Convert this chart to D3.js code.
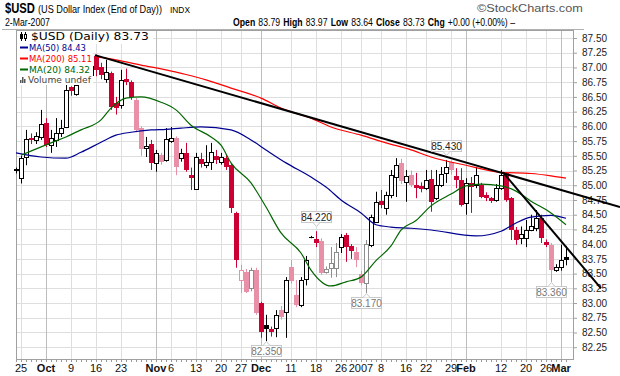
<!DOCTYPE html>
<html>
<head>
<meta charset="utf-8">
<script src="https://cdn.jsdelivr.net/npm/d3@7"></script>
<style>
  body { margin: 0; background: #fff; }
  svg { display: block; }
</style>
</head>
<body>
<svg id="chart" width="620" height="376"></svg>
<script>
// trading days shown on the chart
const dates = [
  "2006-09-22","2006-09-25","2006-09-26","2006-09-27","2006-09-28","2006-09-29",
  "2006-10-02","2006-10-03","2006-10-04","2006-10-05","2006-10-06",
  "2006-10-09","2006-10-10","2006-10-11","2006-10-12","2006-10-13",
  "2006-10-16","2006-10-17","2006-10-18","2006-10-19","2006-10-20",
  "2006-10-23","2006-10-24","2006-10-25","2006-10-26","2006-10-27",
  "2006-10-30","2006-10-31","2006-11-01","2006-11-02","2006-11-03",
  "2006-11-06","2006-11-07","2006-11-08","2006-11-09","2006-11-10",
  "2006-11-13","2006-11-14","2006-11-15","2006-11-16","2006-11-17",
  "2006-11-20","2006-11-21","2006-11-22","2006-11-24",
  "2006-11-27","2006-11-28","2006-11-29","2006-11-30","2006-12-01",
  "2006-12-04","2006-12-05","2006-12-06","2006-12-07","2006-12-08",
  "2006-12-11","2006-12-12","2006-12-13","2006-12-14","2006-12-15",
  "2006-12-18","2006-12-19","2006-12-20","2006-12-21","2006-12-22",
  "2006-12-26","2006-12-27","2006-12-28","2006-12-29",
  "2007-01-02","2007-01-03","2007-01-04","2007-01-05",
  "2007-01-08","2007-01-09","2007-01-10","2007-01-11","2007-01-12",
  "2007-01-16","2007-01-17","2007-01-18","2007-01-19",
  "2007-01-22","2007-01-23","2007-01-24","2007-01-25","2007-01-26",
  "2007-01-29","2007-01-30","2007-01-31","2007-02-01","2007-02-02",
  "2007-02-05","2007-02-06","2007-02-07","2007-02-08","2007-02-09",
  "2007-02-12","2007-02-13","2007-02-14","2007-02-15","2007-02-16",
  "2007-02-20","2007-02-21","2007-02-22","2007-02-23",
  "2007-02-26","2007-02-27","2007-02-28","2007-03-01","2007-03-02"
];

const opens = [
  85.28,85.12,85.48,85.80,85.76,85.82,86.05,85.68,85.77,85.89,85.99,
  86.66,86.55,86.78,86.92,86.88,87.20,87.00,86.80,86.90,86.40,
  86.36,86.80,86.76,86.45,85.97,85.63,85.70,85.38,85.52,85.43,
  85.75,85.80,85.46,85.55,85.17,84.94,85.45,85.34,85.39,85.50,
  85.40,85.46,85.34,84.53,83.39,83.53,83.26,83.56,83.00,
  82.63,82.56,82.58,82.88,82.85,83.62,83.14,82.97,83.41,84.12,
  84.08,84.05,83.53,83.59,83.59,83.95,84.15,83.97,83.87,
  83.50,83.34,83.98,84.38,84.73,84.61,84.83,85.14,85.37,
  85.05,85.17,85.00,84.98,84.95,85.11,84.78,85.00,85.21,
  85.39,85.16,85.09,84.70,85.04,85.00,85.00,84.83,84.79,84.75,
  84.95,85.21,84.78,84.24,84.10,84.10,84.24,84.27,84.45,
  84.04,83.99,83.56,83.62,83.79
];
const highs = [
  85.30,85.50,85.94,85.88,85.90,86.28,86.14,85.94,86.14,86.11,86.74,
  86.68,86.72,86.98,87.05,87.12,87.22,87.08,87.13,86.93,86.50,
  86.96,86.98,86.78,86.48,86.00,85.82,85.77,85.60,85.55,85.97,
  85.99,85.83,85.62,85.72,85.30,85.55,85.55,85.68,85.72,85.60,
  85.55,85.52,85.36,84.55,83.65,83.58,83.60,83.60,83.02,
  82.80,82.60,82.88,82.95,83.44,83.73,83.39,83.44,83.80,84.14,
  84.22,84.10,83.62,83.95,84.02,84.17,84.19,84.00,83.95,
  83.55,84.07,84.50,84.89,84.92,84.89,85.26,85.46,85.45,
  85.26,85.25,85.21,85.05,85.26,85.26,85.26,85.31,85.43,
  85.42,85.29,85.29,85.12,85.14,85.31,85.04,84.88,84.80,85.02,
  85.26,85.22,84.80,84.29,84.30,84.41,84.50,84.58,84.50,
  84.08,84.02,83.66,83.99,83.97
];
const lows = [
  85.20,85.03,85.34,85.70,85.70,85.77,85.65,85.55,85.65,85.82,85.97,
  86.52,86.52,86.77,86.80,86.80,86.85,86.80,86.74,86.28,86.20,
  86.30,86.70,86.45,85.90,85.50,85.48,85.26,85.23,85.35,85.40,
  85.72,85.17,85.40,85.23,84.92,84.92,85.30,85.29,85.26,85.36,
  85.35,85.26,84.53,83.60,83.17,83.17,83.20,82.80,82.41,
  82.35,82.43,82.42,82.72,82.41,83.33,82.93,82.93,83.30,84.10,
  83.95,83.48,83.50,83.43,83.44,83.85,83.70,83.75,83.61,
  83.30,83.17,83.95,84.36,84.61,84.50,84.78,84.80,85.02,
  84.72,84.97,84.78,84.88,84.92,84.55,84.75,84.97,85.04,
  85.18,84.95,84.64,84.50,84.53,84.95,84.78,84.73,84.70,84.72,
  84.92,84.72,84.07,83.99,84.00,83.95,84.22,84.22,84.02,
  83.95,83.36,83.53,83.55,83.64
];
const closes = [
  85.24,85.46,85.78,85.76,85.84,86.04,85.68,85.80,85.89,85.97,86.62,
  86.60,86.70,86.90,86.88,87.02,86.96,86.87,86.92,86.33,86.32,
  86.79,86.75,86.50,85.94,85.62,85.66,85.38,85.55,85.40,85.78,
  85.80,85.31,85.55,85.26,85.12,85.48,85.36,85.40,85.56,85.43,
  85.48,85.31,84.61,83.73,83.56,83.19,83.56,82.83,82.51,
  82.56,82.51,82.80,82.76,83.39,83.37,82.97,83.39,83.73,84.12,
  84.02,83.51,83.58,83.68,83.87,84.12,83.95,83.88,83.73,
  83.34,84.00,84.46,84.72,84.66,84.83,85.17,85.34,85.08,
  85.16,85.00,84.95,84.93,85.09,84.72,85.00,85.19,85.31,
  85.26,85.09,84.66,85.04,84.97,85.17,84.80,84.78,84.74,84.95,
  85.17,84.75,84.24,84.07,84.18,84.24,84.30,84.44,84.10,
  83.99,83.56,83.61,83.73,83.73
];

// moving averages: [date, value]
const ma50 = [
  ["2006-09-22",85.55],["2006-09-29",85.48],["2006-10-06",85.46],["2006-10-11",85.56],
  ["2006-10-17",85.73],["2006-10-20",85.85],["2006-10-25",85.90],["2006-10-31",85.94],
  ["2006-11-03",85.95],["2006-11-08",85.97],["2006-11-14",85.99],["2006-11-22",85.94],
  ["2006-11-29",85.77],["2006-12-04",85.60],["2006-12-08",85.38],["2006-12-15",85.14],
  ["2006-12-20",84.97],["2006-12-26",84.75],["2007-01-02",84.53],["2007-01-05",84.33],
  ["2007-01-10",84.29],["2007-01-17",84.27],["2007-01-23",84.24],["2007-02-05",84.14],
  ["2007-02-12",84.22],["2007-02-15",84.36],["2007-02-21",84.46],["2007-02-27",84.49],
  ["2007-03-02",84.44]
];
const ma200 = [
  ["2006-10-16",87.18],["2006-10-20",87.13],["2006-10-27",87.04],["2006-11-03",86.96],
  ["2006-11-09",86.88],["2006-11-15",86.79],["2006-11-22",86.65],["2006-12-01",86.48],
  ["2006-12-07",86.31],["2006-12-15",86.14],["2006-12-21",85.99],["2007-01-02",85.85],
  ["2007-01-09",85.72],["2007-01-17",85.60],["2007-01-23",85.48],["2007-02-01",85.34],
  ["2007-02-12",85.22],["2007-02-21",85.20],["2007-02-27",85.16],["2007-03-02",85.12]
];
const ma20 = [
  ["2006-09-25",85.51],["2006-10-03",85.72],["2006-10-06",85.82],["2006-10-11",85.94],
  ["2006-10-17",86.11],["2006-10-19",86.31],["2006-10-24",86.48],["2006-10-27",86.50],
  ["2006-11-02",86.41],["2006-11-07",86.28],["2006-11-10",86.02],["2006-11-16",85.82],
  ["2006-11-20",85.68],["2006-11-22",85.38],["2006-11-29",85.04],["2006-12-04",84.63],
  ["2006-12-07",84.19],["2006-12-13",83.85],["2006-12-15",83.56],["2006-12-21",83.29],
  ["2006-12-27",83.36],["2007-01-02",83.44],["2007-01-05",83.72],["2007-01-10",83.97],
  ["2007-01-12",84.24],["2007-01-18",84.40],["2007-01-23",84.65],["2007-01-29",84.85],
  ["2007-02-01",84.99],["2007-02-06",85.02],["2007-02-12",84.99],["2007-02-15",84.90],
  ["2007-02-21",84.73],["2007-02-27",84.53],["2007-03-02",84.33]
];

// trend lines drawn on the chart: [day number, price]
const trendLong = [[15.8, 87.21], [120.8, 84.63]];
const trendShort = [[97.4, 85.22], [117.0, 83.25]];

// high / low callouts
const calloutDates = ["2007-01-26", "2006-12-18", "2007-01-03", "2006-12-04", "2007-02-27"];
const calloutValues = [85.43, 84.22, 83.17, 82.35, 83.36];
const calloutKinds = ["high", "high", "low", "low", "low"];

const yTicks = [82.25,82.50,82.75,83.00,83.25,83.50,83.75,84.00,84.25,84.50,84.75,
  85.00,85.25,85.50,85.75,86.00,86.25,86.50,86.75,87.00,87.25,87.50];
const tickDates = ["2006-09-25","2006-10-02","2006-10-09","2006-10-16","2006-10-23",
  "2006-11-01","2006-11-06","2006-11-13","2006-11-20","2006-11-27","2006-12-01",
  "2006-12-11","2006-12-18","2006-12-26","2007-01-02","2007-01-08","2007-01-16",
  "2007-01-22","2007-01-29","2007-02-01","2007-02-12","2007-02-20","2007-02-26","2007-03-01"];
const tickLabels = ["25","Oct","9","16","23","Nov","6","13","20","27","Dec","11","18","26",
  "2007","8","16","22","29","Feb","12","20","26","Mar"];

const legendNames = ["MA(50)", "MA(200)", "MA(20)"];
const legendValues = ["84.43", "85.11", "84.32"];
const quoteNames = ["Open", "High", "Low", "Close", "Chg"];
const quoteValues = ["83.79", "83.97", "83.64", "83.73", "+0.00 (+0.00%) \u2013"];

// candles that show washed out in the picture
const pale = ["2006-10-26","2006-10-27","2006-11-02","2006-11-07","2006-11-27","2006-11-28",
  "2006-11-29","2006-11-30","2006-12-07","2006-12-11","2006-12-12","2006-12-19","2006-12-20",
  "2006-12-21","2006-12-22","2006-12-29","2007-01-02","2007-01-03","2007-01-12","2007-01-17",
  "2007-01-29","2007-02-27"];

var svg = d3.select("#chart");
var plotL = 16, plotR = 573, plotT = 30, plotB = 359;

var x = d3.scaleLinear().domain([0, dates.length - 1]).range([16, 566]);
var y = d3.scaleLinear().domain([82.05, 87.636]).range([plotB, plotT]);
var dayOf = function (d) { return dates.indexOf(d); };
var px = function (v) { return Math.round(v) + 0.5; };

var RED = "#cc0033", BLACK = "#000";
var SANS = "'Liberation Sans', Arial, sans-serif";

// squeeze a text horizontally to a given width (the source uses a condensed face)
function fit(sel, w) {
  var x0 = +sel.attr("x"), y0 = +sel.attr("y");
  var w0 = sel.node().getComputedTextLength();
  sel.attr("x", 0).attr("y", 0)
    .attr("transform", "translate(" + x0 + "," + y0 + ") scale(" + (w / w0) + ",1)");
  return sel;
}

// grid
var grid = svg.append("g");
grid.selectAll("line.h")
  .data(yTicks)
  .enter().append("line")
  .attr("x1", plotL).attr("x2", plotR)
  .attr("y1", function (d) { return px(y(d)); })
  .attr("y2", function (d) { return px(y(d)); })
  .attr("stroke", "#dedede");
grid.selectAll("line.v")
  .data(tickDates)
  .enter().append("line")
  .attr("x1", function (d) { return px(x(dayOf(d))); })
  .attr("x2", function (d) { return px(x(dayOf(d))); })
  .attr("y1", plotT).attr("y2", plotB)
  .attr("stroke", function (d, i) { return isNaN(+tickLabels[i]) ? "#bdbdbd" : "#dedede"; });

// frame
svg.append("rect")
  .attr("x", plotL + 0.5).attr("y", plotT + 0.5)
  .attr("width", plotR - plotL).attr("height", plotB - plotT)
  .attr("fill", "none").attr("stroke", "#a0a0a0");

// right axis
var yAxis = svg.append("g")
  .attr("transform", "translate(" + plotR + ",0)")
  .call(d3.axisRight(y).tickValues(yTicks).tickFormat(d3.format(".2f")).tickSize(4).tickPadding(5));
yAxis.select(".domain").remove();
yAxis.selectAll("line").attr("stroke", "#a0a0a0");
yAxis.selectAll("text").attr("font-family", SANS).attr("font-size", 10).attr("fill", "#222");

// daily ticks under the plot and date labels
svg.append("g").selectAll("line")
  .data(dates)
  .enter().append("line")
  .attr("x1", function (d, i) { return px(x(i)); })
  .attr("x2", function (d, i) { return px(x(i)); })
  .attr("y1", plotB + 1).attr("y2", plotB + 3)
  .attr("stroke", "#999");
svg.append("g").selectAll("text")
  .data(tickDates)
  .enter().append("text")
  .attr("x", function (d) { return x(dayOf(d)); })
  .attr("y", 372)
  .attr("text-anchor", "middle")
  .attr("font-family", SANS)
  .attr("font-size", 11)
  .attr("font-weight", function (d, i) { return isNaN(+tickLabels[i]) ? "bold" : "normal"; })
  .attr("fill", "#111")
  .text(function (d, i) { return tickLabels[i]; });

// candles: hollow when close > open, red when close < previous close
var candles = svg.append("g");
dates.forEach(function (d, i) {
  var cx = Math.round(x(i));
  var down = i > 0 && closes[i] < closes[i - 1];
  var washed = pale.indexOf(d) >= 0;
  var c = down ? (washed ? "#e890a8" : RED) : (washed ? "#8c8c8c" : BLACK);
  candles.append("line")
    .attr("x1", cx + 0.5).attr("x2", cx + 0.5)
    .attr("y1", y(highs[i])).attr("y2", y(lows[i]))
    .attr("stroke", c);
  var yt = Math.round(y(Math.max(opens[i], closes[i])));
  var yb = Math.round(y(Math.min(opens[i], closes[i])));
  if (closes[i] > opens[i]) {
    candles.append("rect")
      .attr("x", cx - 1.5).attr("y", yt + 0.5)
      .attr("width", 4).attr("height", Math.max(yb - yt, 1))
      .attr("fill", "#fff").attr("stroke", c);
  } else {
    candles.append("rect")
      .attr("x", cx - 2).attr("y", yt)
      .attr("width", 5).attr("height", Math.max(yb - yt, 1))
      .attr("fill", c);
  }
});

// moving averages
var maLine = d3.line()
  .x(function (d) { return x(dayOf(d[0])); })
  .y(function (d) { return y(d[1]); })
  .curve(d3.curveMonotoneX);
var maColors = ["#000090", "#ff0000", "#006600"];
[ma50, ma200, ma20].forEach(function (m, k) {
  svg.append("path").datum(m)
    .attr("d", maLine)
    .attr("fill", "none")
    .attr("stroke", maColors[k])
    .attr("stroke-width", 1.2);
});

// trend lines
var tLine = d3.line().x(function (d) { return x(d[0]); }).y(function (d) { return y(d[1]); });
[trendLong, trendShort].forEach(function (t) {
  svg.append("path").datum(t)
    .attr("d", tLine)
    .attr("stroke", "#000")
    .attr("stroke-width", 2);
});

// callouts
calloutDates.forEach(function (d, k) {
  var cx = Math.round(x(dayOf(d)));
  var cy = y(calloutValues[k]);
  var up = calloutKinds[k] == "high";
  var by = Math.round(up ? cy - 20 : cy + 4);
  var g = svg.append("g");
  g.append("rect")
    .attr("x", cx - 14.5).attr("y", by + 0.5)
    .attr("width", 30).attr("height", 11)
    .attr("fill", "#fff").attr("stroke", "#c8c8c8");
  var ny = up ? by + 11.5 : by + 0.5;
  var tip = up ? ny + 4 : ny - 4;
  g.append("path")
    .attr("d", "M" + (cx - 3) + "," + ny + "L" + (cx + 0.5) + "," + tip + "L" + (cx + 4) + "," + ny)
    .attr("fill", "#fff").attr("stroke", "#c8c8c8");
  g.append("text")
    .attr("x", cx + 0.5).attr("y", by + 10)
    .attr("text-anchor", "middle")
    .attr("font-family", SANS).attr("font-size", 10)
    .attr("fill", up ? "#222" : "#777")
    .text(calloutValues[k].toFixed(3));
});

// legend
var legend = svg.append("g").attr("font-family", "'DejaVu Sans', Verdana, sans-serif");
legend.append("rect").attr("x", 17).attr("y", 31).attr("width", 136).attr("height", 13).attr("fill", "#fff");
legend.append("rect").attr("x", 17).attr("y", 44).attr("width", 76).attr("height", 41).attr("fill", "#fff");
legend.append("line").attr("x1", 21.5).attr("x2", 21.5).attr("y1", 32).attr("y2", 41).attr("stroke", "#000");
legend.append("rect").attr("x", 20).attr("y", 34).attr("width", 3).attr("height", 5).attr("fill", "#000");
legend.append("line").attr("x1", 25.5).attr("x2", 25.5).attr("y1", 32).attr("y2", 41).attr("stroke", "#000");
legend.append("rect").attr("x", 24.5).attr("y", 34.5).attr("width", 2).attr("height", 4).attr("fill", "#fff").attr("stroke", "#000");
fit(legend.append("text").attr("x", 31).attr("y", 40).attr("font-size", 11).attr("fill", "#000")
  .text("$USD (Daily) " + closes[closes.length - 1].toFixed(2)), 118);
var legendWidths = [57, 63, 61];
legendNames.forEach(function (n, k) {
  var ly = 47 + k * 11;
  legend.append("line").attr("x1", 20).attr("x2", 28).attr("y1", ly + 0.5).attr("y2", ly + 0.5)
    .attr("stroke", maColors[k]).attr("stroke-width", 2);
  fit(legend.append("text").attr("x", 29).attr("y", ly + 4).attr("font-size", 9.5)
    .attr("fill", maColors[k]).text(n + " " + legendValues[k]), legendWidths[k]);
});
[3, 6, 4].forEach(function (h, k) {
  legend.append("rect").attr("x", 20 + k * 2).attr("y", 83 - h).attr("width", 1.5).attr("height", h).attr("fill", "#555");
});
fit(legend.append("text").attr("x", 28).attr("y", 83).attr("font-size", 9.5).attr("fill", "#444").text("Volume undef"), 63);

// header
var head = svg.append("g").attr("font-family", SANS).attr("fill", "#000");
fit(head.append("text").attr("x", 5).attr("y", 13).attr("font-size", 14).attr("font-weight", "bold").text("$USD"), 30);
fit(head.append("text").attr("x", 38).attr("y", 13).attr("font-size", 11).text("(US Dollar Index (End of Day))"), 124);
fit(head.append("text").attr("x", 170).attr("y", 13).attr("font-size", 9).text("INDX"), 20);
fit(head.append("text").attr("x", 477).attr("y", 12).attr("font-size", 10).attr("fill", "#555").text("\u00a9StockCharts.com"), 106);
fit(head.append("text").attr("x", 5).attr("y", 26).attr("font-size", 10).text("2-Mar-2007"), 45);

// quote line: measure the parts at natural width, then squeeze them into the source span
var parts = [];
quoteNames.forEach(function (n, k) {
  parts.push([n, true]);
  parts.push([quoteValues[k], false]);
});
var qx = 233, qw = 282, gap = 4;
var nodes = parts.map(function (p) {
  return head.append("text").attr("y", 26).attr("font-size", 11)
    .attr("font-weight", p[1] ? "bold" : "normal").text(p[0]);
});
var natural = nodes.map(function (n) { return n.node().getComputedTextLength(); });
var total = d3.sum(natural) + gap * (parts.length - 1);
var s = qw / total, cur = qx;
nodes.forEach(function (n, k) {
  n.attr("x", cur);
  fit(n, natural[k] * s);
  cur += (natural[k] + gap) * s;
});
head.append("line").attr("x1", 2).attr("x2", 584).attr("y1", 29.5).attr("y2", 29.5).attr("stroke", "#b0b0b0");
</script>
</body>
</html>
